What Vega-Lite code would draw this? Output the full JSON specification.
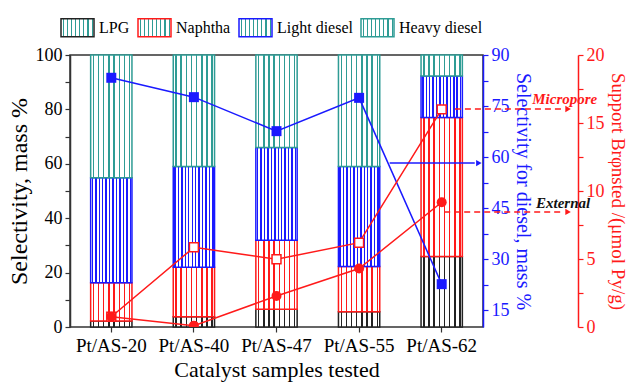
{
  "$schema": "https://vega.github.io/schema/vega-lite/v6.json",
  "width": 413,
  "height": 272,
  "autosize": {"type": "none"},
  "padding": {"left": 70, "top": 55, "right": 145, "bottom": 58},
  "background": "white",
  "config": {
    "font": "Liberation Serif",
    "view": {"stroke": "#333333", "strokeWidth": 1.5},
    "axis": {"labelFont": "Liberation Serif", "titleFont": "Liberation Serif", "labelFontSize": 18, "titleFontSize": 20, "titleFontWeight": "normal", "grid": false, "domainWidth": 1.5, "tickWidth": 1.2, "tickSize": 5, "labelPadding": 3}
  },
  "datasets": {
    "bars": [
      {"sample": "Pt/AS-20", "type": "LPG", "rank": 1, "value": 2.2},
      {"sample": "Pt/AS-20", "type": "Naphtha", "rank": 2, "value": 14.1},
      {"sample": "Pt/AS-20", "type": "Light diesel", "rank": 3, "value": 38.6},
      {"sample": "Pt/AS-20", "type": "Heavy diesel", "rank": 4, "value": 45.1},
      {"sample": "Pt/AS-40", "type": "LPG", "rank": 1, "value": 3.8},
      {"sample": "Pt/AS-40", "type": "Naphtha", "rank": 2, "value": 18.2},
      {"sample": "Pt/AS-40", "type": "Light diesel", "rank": 3, "value": 37.0},
      {"sample": "Pt/AS-40", "type": "Heavy diesel", "rank": 4, "value": 41.0},
      {"sample": "Pt/AS-47", "type": "LPG", "rank": 1, "value": 6.5},
      {"sample": "Pt/AS-47", "type": "Naphtha", "rank": 2, "value": 25.4},
      {"sample": "Pt/AS-47", "type": "Light diesel", "rank": 3, "value": 34.1},
      {"sample": "Pt/AS-47", "type": "Heavy diesel", "rank": 4, "value": 34.0},
      {"sample": "Pt/AS-55", "type": "LPG", "rank": 1, "value": 5.6},
      {"sample": "Pt/AS-55", "type": "Naphtha", "rank": 2, "value": 16.6},
      {"sample": "Pt/AS-55", "type": "Light diesel", "rank": 3, "value": 36.8},
      {"sample": "Pt/AS-55", "type": "Heavy diesel", "rank": 4, "value": 41.0},
      {"sample": "Pt/AS-62", "type": "LPG", "rank": 1, "value": 25.9},
      {"sample": "Pt/AS-62", "type": "Naphtha", "rank": 2, "value": 51.1},
      {"sample": "Pt/AS-62", "type": "Light diesel", "rank": 3, "value": 15.3},
      {"sample": "Pt/AS-62", "type": "Heavy diesel", "rank": 4, "value": 7.7}
    ],
    "lines": [
      {"sample": "Pt/AS-20", "diesel": 83.3, "micropore": 0.75, "external": 0.75},
      {"sample": "Pt/AS-40", "diesel": 77.6, "micropore": 5.86, "external": 0.1},
      {"sample": "Pt/AS-47", "diesel": 67.6, "micropore": 4.98, "external": 2.28},
      {"sample": "Pt/AS-55", "diesel": 77.4, "micropore": 6.2, "external": 4.3},
      {"sample": "Pt/AS-62", "diesel": 22.6, "micropore": 16.0, "external": 9.17}
    ],
    "redNotes": [
      {"label": "Micropore", "x1": 4.66, "x2": 5.98, "tip": 6.03, "y": 16.03, "tx": 5.99, "ty": 16.75},
      {"label": "External", "x1": 4.53, "x2": 5.98, "tip": 6.03, "y": 8.46, "tx": 5.97, "ty": 9.1}
    ],
    "blueNote": [
      {"x1": 3.87, "x2": 4.9, "tip": 4.95, "y": 58.2}
    ]
  },
  "layer": [
    {
      "data": {"name": "bars"},
      "mark": {"type": "bar", "strokeWidth": 1.5},
      "encoding": {
        "x": {"field": "sample", "type": "nominal", "sort": null,
              "scale": {"type": "band", "paddingInner": 0.5, "paddingOuter": 0.25},
              "axis": {"title": "Catalyst samples tested", "titleFontSize": 22, "labelFontSize": 19, "labelAngle": 0, "domain": false, "tickColor": "#333333", "labelColor": "black", "titleColor": "black", "labelPadding": 4, "titlePadding": 4}},
        "y": {"field": "value", "type": "quantitative", "stack": "zero",
              "scale": {"domain": [0, 100], "nice": false},
              "axis": {"orient": "left", "title": "Selectivity, mass %", "titleFontSize": 24, "values": [0, 10, 20, 30, 40, 50, 60, 70, 80, 90, 100],
                       "labelExpr": "datum.value % 20 === 0 ? datum.label : ''", "domainColor": "#333333", "tickColor": "#333333", "labelColor": "black", "titleColor": "black", "titlePadding": 4}},
        "order": {"field": "rank", "type": "quantitative"},
        "stroke": {"field": "type", "type": "nominal",
                   "scale": {"domain": ["LPG", "Naphtha", "Light diesel", "Heavy diesel"], "range": ["#222222", "#ff1a1a", "#1a1aff", "#2f9c95"]},
                   "legend": {"title": null, "orient": "none", "direction": "horizontal", "legendX": -10, "legendY": -45,
                              "symbolType": "M-1,-0.55H1V0.55H-1Z", "symbolSize": 1089, "symbolStrokeWidth": 1.5,
                              "labelFont": "Liberation Serif", "labelFontSize": 16, "labelColor": "black", "labelOffset": 4, "columnPadding": 5, "padding": 0,
                              "encode": {"symbols": {"update": {"fill": [
                                {"test": "datum.value === 'LPG'", "value": {"gradient": "linear", "x1": 0, "y1": 0, "x2": 1, "y2": 0, "stops": [{"offset": 0, "color": "white"}, {"offset": 0.05, "color": "white"}, {"offset": 0.05, "color": "#222222"}, {"offset": 0.085, "color": "#222222"}, {"offset": 0.085, "color": "white"}, {"offset": 0.175, "color": "white"}, {"offset": 0.175, "color": "#222222"}, {"offset": 0.21, "color": "#222222"}, {"offset": 0.21, "color": "white"}, {"offset": 0.3, "color": "white"}, {"offset": 0.3, "color": "#222222"}, {"offset": 0.335, "color": "#222222"}, {"offset": 0.335, "color": "white"}, {"offset": 0.425, "color": "white"}, {"offset": 0.425, "color": "#222222"}, {"offset": 0.46, "color": "#222222"}, {"offset": 0.46, "color": "white"}, {"offset": 0.55, "color": "white"}, {"offset": 0.55, "color": "#222222"}, {"offset": 0.585, "color": "#222222"}, {"offset": 0.585, "color": "white"}, {"offset": 0.675, "color": "white"}, {"offset": 0.675, "color": "#222222"}, {"offset": 0.71, "color": "#222222"}, {"offset": 0.71, "color": "white"}, {"offset": 0.8, "color": "white"}, {"offset": 0.8, "color": "#222222"}, {"offset": 0.835, "color": "#222222"}, {"offset": 0.835, "color": "white"}, {"offset": 0.925, "color": "white"}, {"offset": 0.925, "color": "#222222"}, {"offset": 0.96, "color": "#222222"}, {"offset": 0.96, "color": "white"}, {"offset": 1, "color": "white"}]}},
                                {"test": "datum.value === 'Naphtha'", "value": {"gradient": "linear", "x1": 0, "y1": 0, "x2": 1, "y2": 0, "stops": [{"offset": 0, "color": "white"}, {"offset": 0.05, "color": "white"}, {"offset": 0.05, "color": "#ff1a1a"}, {"offset": 0.085, "color": "#ff1a1a"}, {"offset": 0.085, "color": "white"}, {"offset": 0.175, "color": "white"}, {"offset": 0.175, "color": "#ff1a1a"}, {"offset": 0.21, "color": "#ff1a1a"}, {"offset": 0.21, "color": "white"}, {"offset": 0.3, "color": "white"}, {"offset": 0.3, "color": "#ff1a1a"}, {"offset": 0.335, "color": "#ff1a1a"}, {"offset": 0.335, "color": "white"}, {"offset": 0.425, "color": "white"}, {"offset": 0.425, "color": "#ff1a1a"}, {"offset": 0.46, "color": "#ff1a1a"}, {"offset": 0.46, "color": "white"}, {"offset": 0.55, "color": "white"}, {"offset": 0.55, "color": "#ff1a1a"}, {"offset": 0.585, "color": "#ff1a1a"}, {"offset": 0.585, "color": "white"}, {"offset": 0.675, "color": "white"}, {"offset": 0.675, "color": "#ff1a1a"}, {"offset": 0.71, "color": "#ff1a1a"}, {"offset": 0.71, "color": "white"}, {"offset": 0.8, "color": "white"}, {"offset": 0.8, "color": "#ff1a1a"}, {"offset": 0.835, "color": "#ff1a1a"}, {"offset": 0.835, "color": "white"}, {"offset": 0.925, "color": "white"}, {"offset": 0.925, "color": "#ff1a1a"}, {"offset": 0.96, "color": "#ff1a1a"}, {"offset": 0.96, "color": "white"}, {"offset": 1, "color": "white"}]}},
                                {"test": "datum.value === 'Light diesel'", "value": {"gradient": "linear", "x1": 0, "y1": 0, "x2": 1, "y2": 0, "stops": [{"offset": 0, "color": "white"}, {"offset": 0.025, "color": "white"}, {"offset": 0.025, "color": "#1a1aff"}, {"offset": 0.06, "color": "#1a1aff"}, {"offset": 0.06, "color": "white"}, {"offset": 0.108, "color": "white"}, {"offset": 0.108, "color": "#1a1aff"}, {"offset": 0.143, "color": "#1a1aff"}, {"offset": 0.143, "color": "white"}, {"offset": 0.192, "color": "white"}, {"offset": 0.192, "color": "#1a1aff"}, {"offset": 0.227, "color": "#1a1aff"}, {"offset": 0.227, "color": "white"}, {"offset": 0.275, "color": "white"}, {"offset": 0.275, "color": "#1a1aff"}, {"offset": 0.31, "color": "#1a1aff"}, {"offset": 0.31, "color": "white"}, {"offset": 0.358, "color": "white"}, {"offset": 0.358, "color": "#1a1aff"}, {"offset": 0.393, "color": "#1a1aff"}, {"offset": 0.393, "color": "white"}, {"offset": 0.442, "color": "white"}, {"offset": 0.442, "color": "#1a1aff"}, {"offset": 0.477, "color": "#1a1aff"}, {"offset": 0.477, "color": "white"}, {"offset": 0.525, "color": "white"}, {"offset": 0.525, "color": "#1a1aff"}, {"offset": 0.56, "color": "#1a1aff"}, {"offset": 0.56, "color": "white"}, {"offset": 0.608, "color": "white"}, {"offset": 0.608, "color": "#1a1aff"}, {"offset": 0.643, "color": "#1a1aff"}, {"offset": 0.643, "color": "white"}, {"offset": 0.692, "color": "white"}, {"offset": 0.692, "color": "#1a1aff"}, {"offset": 0.727, "color": "#1a1aff"}, {"offset": 0.727, "color": "white"}, {"offset": 0.775, "color": "white"}, {"offset": 0.775, "color": "#1a1aff"}, {"offset": 0.81, "color": "#1a1aff"}, {"offset": 0.81, "color": "white"}, {"offset": 0.858, "color": "white"}, {"offset": 0.858, "color": "#1a1aff"}, {"offset": 0.893, "color": "#1a1aff"}, {"offset": 0.893, "color": "white"}, {"offset": 0.942, "color": "white"}, {"offset": 0.942, "color": "#1a1aff"}, {"offset": 0.977, "color": "#1a1aff"}, {"offset": 0.977, "color": "white"}, {"offset": 1, "color": "white"}]}},
                                {"value": {"gradient": "linear", "x1": 0, "y1": 0, "x2": 1, "y2": 0, "stops": [{"offset": 0, "color": "white"}, {"offset": 0.05, "color": "white"}, {"offset": 0.05, "color": "#2f9c95"}, {"offset": 0.085, "color": "#2f9c95"}, {"offset": 0.085, "color": "white"}, {"offset": 0.175, "color": "white"}, {"offset": 0.175, "color": "#2f9c95"}, {"offset": 0.21, "color": "#2f9c95"}, {"offset": 0.21, "color": "white"}, {"offset": 0.3, "color": "white"}, {"offset": 0.3, "color": "#2f9c95"}, {"offset": 0.335, "color": "#2f9c95"}, {"offset": 0.335, "color": "white"}, {"offset": 0.425, "color": "white"}, {"offset": 0.425, "color": "#2f9c95"}, {"offset": 0.46, "color": "#2f9c95"}, {"offset": 0.46, "color": "white"}, {"offset": 0.55, "color": "white"}, {"offset": 0.55, "color": "#2f9c95"}, {"offset": 0.585, "color": "#2f9c95"}, {"offset": 0.585, "color": "white"}, {"offset": 0.675, "color": "white"}, {"offset": 0.675, "color": "#2f9c95"}, {"offset": 0.71, "color": "#2f9c95"}, {"offset": 0.71, "color": "white"}, {"offset": 0.8, "color": "white"}, {"offset": 0.8, "color": "#2f9c95"}, {"offset": 0.835, "color": "#2f9c95"}, {"offset": 0.835, "color": "white"}, {"offset": 0.925, "color": "white"}, {"offset": 0.925, "color": "#2f9c95"}, {"offset": 0.96, "color": "#2f9c95"}, {"offset": 0.96, "color": "white"}, {"offset": 1, "color": "white"}]}}
                              ]}}}}},
        "fill": {
          "condition": [
            {"test": "datum.type === 'LPG'", "value": {"gradient": "linear", "x1": 0, "y1": 0, "x2": 1, "y2": 0, "stops": [{"offset": 0, "color": "white"}, {"offset": 0.05, "color": "white"}, {"offset": 0.05, "color": "#222222"}, {"offset": 0.085, "color": "#222222"}, {"offset": 0.085, "color": "white"}, {"offset": 0.175, "color": "white"}, {"offset": 0.175, "color": "#222222"}, {"offset": 0.21, "color": "#222222"}, {"offset": 0.21, "color": "white"}, {"offset": 0.3, "color": "white"}, {"offset": 0.3, "color": "#222222"}, {"offset": 0.335, "color": "#222222"}, {"offset": 0.335, "color": "white"}, {"offset": 0.425, "color": "white"}, {"offset": 0.425, "color": "#222222"}, {"offset": 0.46, "color": "#222222"}, {"offset": 0.46, "color": "white"}, {"offset": 0.55, "color": "white"}, {"offset": 0.55, "color": "#222222"}, {"offset": 0.585, "color": "#222222"}, {"offset": 0.585, "color": "white"}, {"offset": 0.675, "color": "white"}, {"offset": 0.675, "color": "#222222"}, {"offset": 0.71, "color": "#222222"}, {"offset": 0.71, "color": "white"}, {"offset": 0.8, "color": "white"}, {"offset": 0.8, "color": "#222222"}, {"offset": 0.835, "color": "#222222"}, {"offset": 0.835, "color": "white"}, {"offset": 0.925, "color": "white"}, {"offset": 0.925, "color": "#222222"}, {"offset": 0.96, "color": "#222222"}, {"offset": 0.96, "color": "white"}, {"offset": 1, "color": "white"}]}},
            {"test": "datum.type === 'Naphtha'", "value": {"gradient": "linear", "x1": 0, "y1": 0, "x2": 1, "y2": 0, "stops": [{"offset": 0, "color": "white"}, {"offset": 0.05, "color": "white"}, {"offset": 0.05, "color": "#ff1a1a"}, {"offset": 0.085, "color": "#ff1a1a"}, {"offset": 0.085, "color": "white"}, {"offset": 0.175, "color": "white"}, {"offset": 0.175, "color": "#ff1a1a"}, {"offset": 0.21, "color": "#ff1a1a"}, {"offset": 0.21, "color": "white"}, {"offset": 0.3, "color": "white"}, {"offset": 0.3, "color": "#ff1a1a"}, {"offset": 0.335, "color": "#ff1a1a"}, {"offset": 0.335, "color": "white"}, {"offset": 0.425, "color": "white"}, {"offset": 0.425, "color": "#ff1a1a"}, {"offset": 0.46, "color": "#ff1a1a"}, {"offset": 0.46, "color": "white"}, {"offset": 0.55, "color": "white"}, {"offset": 0.55, "color": "#ff1a1a"}, {"offset": 0.585, "color": "#ff1a1a"}, {"offset": 0.585, "color": "white"}, {"offset": 0.675, "color": "white"}, {"offset": 0.675, "color": "#ff1a1a"}, {"offset": 0.71, "color": "#ff1a1a"}, {"offset": 0.71, "color": "white"}, {"offset": 0.8, "color": "white"}, {"offset": 0.8, "color": "#ff1a1a"}, {"offset": 0.835, "color": "#ff1a1a"}, {"offset": 0.835, "color": "white"}, {"offset": 0.925, "color": "white"}, {"offset": 0.925, "color": "#ff1a1a"}, {"offset": 0.96, "color": "#ff1a1a"}, {"offset": 0.96, "color": "white"}, {"offset": 1, "color": "white"}]}},
            {"test": "datum.type === 'Light diesel'", "value": {"gradient": "linear", "x1": 0, "y1": 0, "x2": 1, "y2": 0, "stops": [{"offset": 0, "color": "white"}, {"offset": 0.025, "color": "white"}, {"offset": 0.025, "color": "#1a1aff"}, {"offset": 0.06, "color": "#1a1aff"}, {"offset": 0.06, "color": "white"}, {"offset": 0.108, "color": "white"}, {"offset": 0.108, "color": "#1a1aff"}, {"offset": 0.143, "color": "#1a1aff"}, {"offset": 0.143, "color": "white"}, {"offset": 0.192, "color": "white"}, {"offset": 0.192, "color": "#1a1aff"}, {"offset": 0.227, "color": "#1a1aff"}, {"offset": 0.227, "color": "white"}, {"offset": 0.275, "color": "white"}, {"offset": 0.275, "color": "#1a1aff"}, {"offset": 0.31, "color": "#1a1aff"}, {"offset": 0.31, "color": "white"}, {"offset": 0.358, "color": "white"}, {"offset": 0.358, "color": "#1a1aff"}, {"offset": 0.393, "color": "#1a1aff"}, {"offset": 0.393, "color": "white"}, {"offset": 0.442, "color": "white"}, {"offset": 0.442, "color": "#1a1aff"}, {"offset": 0.477, "color": "#1a1aff"}, {"offset": 0.477, "color": "white"}, {"offset": 0.525, "color": "white"}, {"offset": 0.525, "color": "#1a1aff"}, {"offset": 0.56, "color": "#1a1aff"}, {"offset": 0.56, "color": "white"}, {"offset": 0.608, "color": "white"}, {"offset": 0.608, "color": "#1a1aff"}, {"offset": 0.643, "color": "#1a1aff"}, {"offset": 0.643, "color": "white"}, {"offset": 0.692, "color": "white"}, {"offset": 0.692, "color": "#1a1aff"}, {"offset": 0.727, "color": "#1a1aff"}, {"offset": 0.727, "color": "white"}, {"offset": 0.775, "color": "white"}, {"offset": 0.775, "color": "#1a1aff"}, {"offset": 0.81, "color": "#1a1aff"}, {"offset": 0.81, "color": "white"}, {"offset": 0.858, "color": "white"}, {"offset": 0.858, "color": "#1a1aff"}, {"offset": 0.893, "color": "#1a1aff"}, {"offset": 0.893, "color": "white"}, {"offset": 0.942, "color": "white"}, {"offset": 0.942, "color": "#1a1aff"}, {"offset": 0.977, "color": "#1a1aff"}, {"offset": 0.977, "color": "white"}, {"offset": 1, "color": "white"}]}}
          ],
          "value": {"gradient": "linear", "x1": 0, "y1": 0, "x2": 1, "y2": 0, "stops": [{"offset": 0, "color": "white"}, {"offset": 0.05, "color": "white"}, {"offset": 0.05, "color": "#2f9c95"}, {"offset": 0.085, "color": "#2f9c95"}, {"offset": 0.085, "color": "white"}, {"offset": 0.175, "color": "white"}, {"offset": 0.175, "color": "#2f9c95"}, {"offset": 0.21, "color": "#2f9c95"}, {"offset": 0.21, "color": "white"}, {"offset": 0.3, "color": "white"}, {"offset": 0.3, "color": "#2f9c95"}, {"offset": 0.335, "color": "#2f9c95"}, {"offset": 0.335, "color": "white"}, {"offset": 0.425, "color": "white"}, {"offset": 0.425, "color": "#2f9c95"}, {"offset": 0.46, "color": "#2f9c95"}, {"offset": 0.46, "color": "white"}, {"offset": 0.55, "color": "white"}, {"offset": 0.55, "color": "#2f9c95"}, {"offset": 0.585, "color": "#2f9c95"}, {"offset": 0.585, "color": "white"}, {"offset": 0.675, "color": "white"}, {"offset": 0.675, "color": "#2f9c95"}, {"offset": 0.71, "color": "#2f9c95"}, {"offset": 0.71, "color": "white"}, {"offset": 0.8, "color": "white"}, {"offset": 0.8, "color": "#2f9c95"}, {"offset": 0.835, "color": "#2f9c95"}, {"offset": 0.835, "color": "white"}, {"offset": 0.925, "color": "white"}, {"offset": 0.925, "color": "#2f9c95"}, {"offset": 0.96, "color": "#2f9c95"}, {"offset": 0.96, "color": "white"}, {"offset": 1, "color": "white"}]}
        }
      }
    },
    {
      "data": {"name": "lines"},
      "mark": {"type": "line", "color": "#1a1aff", "strokeWidth": 1.5, "point": {"shape": "square", "filled": true, "fill": "#1a1aff", "size": 100}},
      "encoding": {
        "x": {"field": "sample", "type": "nominal", "sort": null, "scale": {"type": "point", "padding": 0.5}, "axis": null},
        "y": {"field": "diesel", "type": "quantitative", "scale": {"domain": [10, 90], "nice": false},
              "axis": {"orient": "right", "title": "Selectivity for diesel, mass %", "titleFontSize": 20, "values": [15, 22.5, 30, 37.5, 45, 52.5, 60, 67.5, 75, 82.5, 90],
                       "labelExpr": "datum.value % 15 === 0 ? datum.label : ''", "domainColor": "#1a1aff", "tickColor": "#1a1aff", "labelColor": "#1a1aff", "titleColor": "#1a1aff", "titlePadding": 3}}
      }
    },
    {
      "data": {"name": "lines"},
      "mark": {"type": "line", "color": "#ff1a1a", "strokeWidth": 1.5, "point": {"shape": "square", "filled": true, "fill": "white", "stroke": "#ff1a1a", "strokeWidth": 1.5, "size": 80}},
      "encoding": {
        "x": {"field": "sample", "type": "nominal", "sort": null, "scale": {"type": "point", "padding": 0.5}, "axis": null},
        "y": {"field": "micropore", "type": "quantitative", "scale": {"domain": [0, 20], "nice": false},
              "axis": {"orient": "right", "offset": 95, "title": "Support Brφnsted /(μmol Py/g)", "titleFontSize": 19, "values": [0, 2.5, 5, 7.5, 10, 12.5, 15, 17.5, 20],
                       "labelExpr": "datum.value % 5 === 0 ? datum.label : ''", "domainColor": "#ff1a1a", "tickColor": "#ff1a1a", "labelColor": "#ff1a1a", "titleColor": "#ff1a1a", "titlePadding": 3}}
      }
    },
    {
      "data": {"name": "lines"},
      "mark": {"type": "line", "color": "#ff1a1a", "strokeWidth": 1.5, "clip": true, "point": {"shape": "circle", "filled": true, "fill": "#ff1a1a", "size": 100}},
      "encoding": {
        "x": {"field": "sample", "type": "nominal", "sort": null, "scale": {"type": "point", "padding": 0.5}, "axis": null},
        "y": {"field": "external", "type": "quantitative", "scale": {"domain": [0, 20], "nice": false}, "axis": null}
      }
    },
    {
      "data": {"name": "redNotes"},
      "mark": {"type": "rule", "color": "#ff1a1a", "strokeWidth": 1.5, "strokeDash": [6, 4]},
      "encoding": {
        "x": {"field": "x1", "type": "quantitative", "scale": {"domain": [0, 5], "nice": false, "zero": false}, "axis": null},
        "x2": {"field": "x2"},
        "y": {"field": "y", "type": "quantitative", "scale": {"domain": [0, 20], "nice": false}, "axis": null}
      }
    },
    {
      "data": {"name": "redNotes"},
      "mark": {"type": "point", "shape": "triangle-right", "filled": true, "color": "#ff1a1a", "size": 40, "opacity": 1},
      "encoding": {
        "x": {"field": "tip", "type": "quantitative", "scale": {"domain": [0, 5], "nice": false, "zero": false}, "axis": null},
        "y": {"field": "y", "type": "quantitative", "scale": {"domain": [0, 20], "nice": false}, "axis": null}
      }
    },
    {
      "data": {"name": "redNotes"},
      "mark": {"type": "text", "font": "Liberation Serif", "fontSize": 15, "fontWeight": "bold", "fontStyle": "italic"},
      "encoding": {
        "x": {"field": "tx", "type": "quantitative", "scale": {"domain": [0, 5], "nice": false, "zero": false}, "axis": null},
        "y": {"field": "ty", "type": "quantitative", "scale": {"domain": [0, 20], "nice": false}, "axis": null},
        "text": {"field": "label"},
        "color": {"field": "label", "type": "nominal", "scale": {"domain": ["Micropore", "External"], "range": ["#ff1a1a", "#111111"]}, "legend": null}
      }
    },
    {
      "data": {"name": "blueNote"},
      "mark": {"type": "rule", "color": "#1a1aff", "strokeWidth": 1.5},
      "encoding": {
        "x": {"field": "x1", "type": "quantitative", "scale": {"domain": [0, 5], "nice": false, "zero": false}, "axis": null},
        "x2": {"field": "x2"},
        "y": {"field": "y", "type": "quantitative", "scale": {"domain": [10, 90], "nice": false}, "axis": null}
      }
    },
    {
      "data": {"name": "blueNote"},
      "mark": {"type": "point", "shape": "triangle-right", "filled": true, "color": "#1a1aff", "size": 40, "opacity": 1},
      "encoding": {
        "x": {"field": "tip", "type": "quantitative", "scale": {"domain": [0, 5], "nice": false, "zero": false}, "axis": null},
        "y": {"field": "y", "type": "quantitative", "scale": {"domain": [10, 90], "nice": false}, "axis": null}
      }
    }
  ],
  "resolve": {"scale": {"x": "independent", "y": "independent", "color": "independent"}, "axis": {"x": "independent", "y": "independent"}}
}
